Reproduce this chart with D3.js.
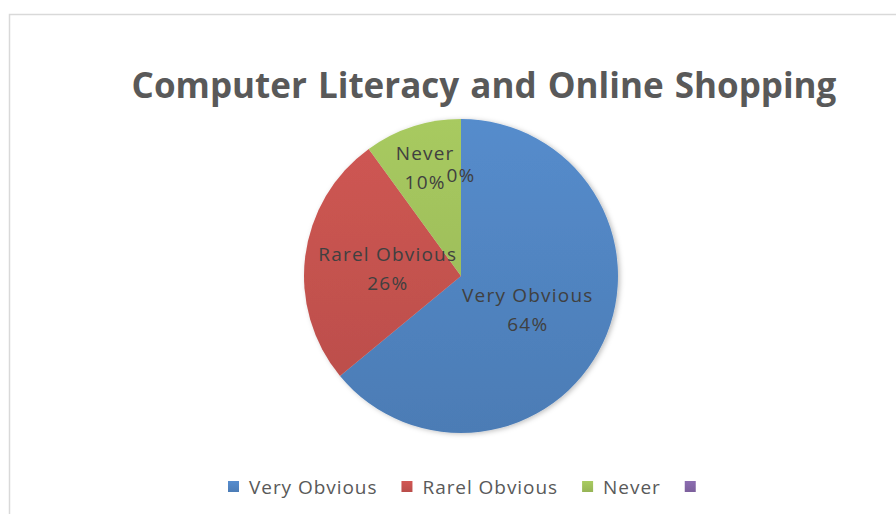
<!DOCTYPE html>
<html>
<head>
<meta charset="utf-8">
<script src="https://cdn.jsdelivr.net/npm/d3@7/dist/d3.min.js"></script>
<style>
  body { margin: 0; background: #fff; }
  svg { display: block; font-family: "Open Sans", "Liberation Sans", sans-serif; }
</style>
</head>
<body>
<svg id="chart" width="896" height="514"></svg>
<script>
// data
var categories = ['Very Obvious', 'Rarel Obvious', 'Never', ''];
var percents   = [64, 26, 10, 0];
var colors     = ['#4F81BD', '#C0504D', '#9BBB59', '#8064A2'];
var chartTitle = 'Computer Literacy and Online Shopping';

var svg = d3.select('#chart');

// chart frame (runs off the right and bottom edges)
svg.append('rect')
  .attr('x', 9.5).attr('y', 14.5)
  .attr('width', 960).attr('height', 600)
  .attr('fill', '#fff')
  .attr('stroke', '#d9d9d9')
  .attr('stroke-width', 1.5);

// title
svg.append('text')
  .attr('x', 484).attr('y', 98)
  .attr('text-anchor', 'middle')
  .style('font-size', '35px')
  .style('font-weight', 'bold')
  .style('fill', '#595959')
  .style('word-spacing', '2px')
  .text(chartTitle);

var cx = 461, cy = 276, radius = 157;

var rows = categories.map(function (c, i) {
  return { name: c, value: percents[i], color: colors[i] };
});

var pie = d3.pie()
  .sort(null)
  .value(function (d) { return d.value; });

var arcs = pie(rows);

var drawArc = d3.arc()
  .innerRadius(0)
  .outerRadius(radius);

// gradients: lighter at top, darker at bottom
var defs = svg.append('defs');
rows.forEach(function (d, i) {
  var c = d3.color(d.color);
  var g = defs.append('linearGradient')
    .attr('id', 'grad-' + i)
    .attr('gradientUnits', 'userSpaceOnUse')
    .attr('x1', 0).attr('y1', -radius)
    .attr('x2', 0).attr('y2', radius);
  g.append('stop').attr('offset', '0%').attr('stop-color', c.brighter(0.22));
  g.append('stop').attr('offset', '100%').attr('stop-color', c.darker(0.12));
});

var shadow = defs.append('filter')
  .attr('id', 'pie-shadow')
  .attr('x', '-20%').attr('y', '-20%')
  .attr('width', '140%').attr('height', '140%');
shadow.append('feDropShadow')
  .attr('dx', 2).attr('dy', 1)
  .attr('stdDeviation', 2.5)
  .attr('flood-color', '#000')
  .attr('flood-opacity', 0.25);

var pieGroup = svg.append('g')
  .attr('transform', 'translate(' + cx + ',' + cy + ')');

var slices = pieGroup.append('g')
  .attr('filter', 'url(#pie-shadow)');

slices.selectAll('path.slice')
  .data(arcs)
  .enter()
  .append('path')
  .attr('class', 'slice')
  .attr('d', drawArc)
  .attr('fill', function (d, i) { return 'url(#grad-' + i + ')'; });

// data labels
function labelRadius(d) {
  var span = d.endAngle - d.startAngle;
  if (d.data.value === 0) return radius * 0.64;
  if (span < 1) return radius * 0.74;
  return radius * 0.47;
}

var labels = pieGroup.selectAll('text.label')
  .data(arcs)
  .enter()
  .append('text')
  .attr('class', 'label')
  .attr('text-anchor', 'middle')
  .style('font-size', '19px')
  .style('letter-spacing', '1.2px')
  .style('fill', '#404040')
  .attr('transform', function (d) {
    var a = (d.startAngle + d.endAngle) / 2;
    var r = labelRadius(d);
    return 'translate(' + (Math.sin(a) * r) + ',' + (-Math.cos(a) * r) + ')';
  });

labels.each(function (d) {
  var t = d3.select(this);
  var pct = d.data.value + '%';
  if (d.data.name) {
    t.append('tspan').attr('x', 0).attr('dy', '-0.3em').text(d.data.name);
    t.append('tspan').attr('x', 0).attr('dy', '1.55em').text(pct);
  } else {
    t.append('tspan').attr('x', 0).attr('dy', '0.35em').text(pct);
  }
});

// legend
var legendY = 487;
var legend = svg.append('g').attr('class', 'legend');
var x = 228;
rows.forEach(function (d, i) {
  var c = d3.color(d.color);
  var lg = defs.append('linearGradient')
    .attr('id', 'lgrad-' + i)
    .attr('x1', 0).attr('y1', 0).attr('x2', 0).attr('y2', 1);
  lg.append('stop').attr('offset', '0%').attr('stop-color', c.brighter(0.25));
  lg.append('stop').attr('offset', '100%').attr('stop-color', c.darker(0.1));

  var item = legend.append('g').attr('transform', 'translate(' + x + ',' + legendY + ')');
  item.append('rect')
    .attr('x', 0).attr('y', -6)
    .attr('width', 11).attr('height', 11)
    .attr('fill', 'url(#lgrad-' + i + ')');
  var label = item.append('text')
    .attr('x', 21).attr('y', 6.5)
    .style('font-size', '19px')
    .style('letter-spacing', '0.95px')
    .style('fill', '#595959')
    .text(d.name);
  var w = d.name ? label.node().getComputedTextLength() : 0;
  x += 21 + w + 24;
});
</script>
</body>
</html>
